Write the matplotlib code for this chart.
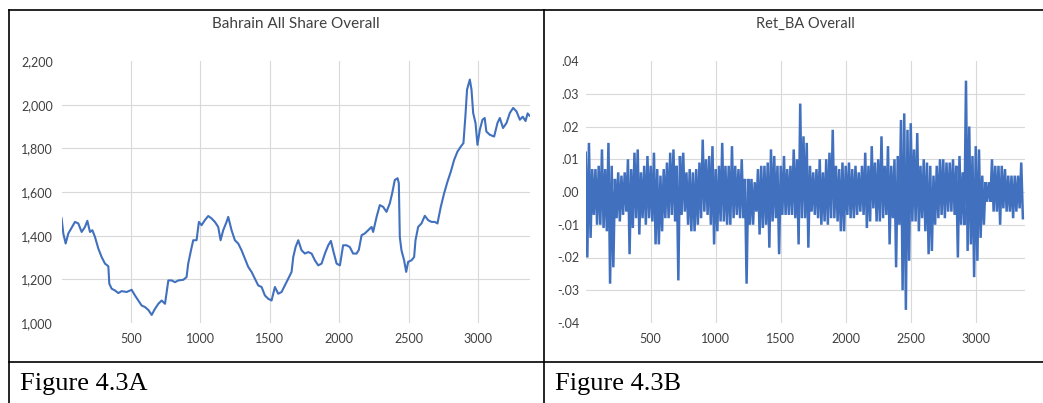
import numpy as np
import matplotlib.pyplot as plt
from matplotlib.lines import Line2D

# ------------------------------------------------------------------
# Data
# ------------------------------------------------------------------
# Figure 4.3A: Bahrain All Share index (observation number, index level)
bahrain_obs = [
    1, 13, 30, 49, 97, 121, 145, 169, 186, 205, 222, 241, 265, 289, 313, 337,
    344, 361, 385, 409, 433, 469, 505, 529, 553, 577, 601, 625, 649, 673, 697,
    721, 745, 769, 793, 817, 841, 877, 900, 912, 932, 948, 972, 989, 1008, 1032,
    1056, 1080, 1104, 1128, 1145, 1164, 1188, 1200, 1224, 1248, 1272, 1296, 1320,
    1344, 1368, 1392, 1416, 1440, 1464, 1488, 1512, 1536, 1560, 1584, 1608, 1632,
    1656, 1668, 1685, 1704, 1728, 1752, 1776, 1800, 1824, 1848, 1872, 1896, 1920,
    1939, 1955, 1980, 2004, 2027, 2052, 2075, 2099, 2124, 2140, 2160, 2183, 2207,
    2232, 2243, 2268, 2291, 2315, 2339, 2363, 2380, 2399, 2419, 2428, 2435, 2447,
    2466, 2481, 2495, 2519, 2538, 2548, 2567, 2591, 2615, 2639, 2663, 2687, 2706,
    2730, 2754, 2778, 2802, 2826, 2850, 2874, 2893, 2907, 2919, 2939, 2951, 2963,
    2980, 2994, 3011, 3030, 3046, 3058, 3083, 3114, 3138, 3155, 3178, 3203, 3227,
    3251, 3275, 3299, 3320, 3340, 3355, 3368,
]
bahrain_index = [
    1479, 1410, 1364, 1410, 1463, 1456, 1417, 1440, 1468, 1417, 1425, 1394, 1341,
    1302, 1272, 1260, 1180, 1157, 1149, 1137, 1146, 1142, 1152, 1126, 1103, 1080,
    1073, 1060, 1037, 1065, 1088, 1103, 1088, 1195, 1195, 1187, 1195, 1198, 1210,
    1272, 1333, 1379, 1379, 1463, 1448, 1471, 1490, 1479, 1463, 1440, 1379, 1425,
    1463, 1486, 1425, 1379, 1364, 1333, 1295, 1257, 1234, 1203, 1172, 1165, 1126,
    1111, 1103, 1165, 1134, 1142, 1172, 1203, 1234, 1302, 1348, 1379, 1333, 1318,
    1325, 1318, 1287, 1264, 1272, 1318, 1356, 1376, 1333, 1272, 1264, 1356, 1356,
    1348, 1318, 1318, 1335, 1402, 1410, 1425, 1440, 1417, 1486, 1540, 1532, 1509,
    1548, 1594, 1655, 1663, 1640, 1394, 1333, 1287, 1234, 1280, 1287, 1302, 1379,
    1440, 1456, 1491, 1471, 1463, 1463, 1456, 1532, 1594, 1647, 1693, 1747, 1785,
    1808, 1824, 1946, 2069, 2115, 2069, 1962, 1916, 1816, 1885, 1931, 1939, 1877,
    1862, 1854, 1916, 1939, 1893, 1916, 1962, 1985, 1969, 1931, 1945, 1925, 1960,
    1950,
]

# Figure 4.3B: Ret_BA, upper / lower reading per block of 25 observations
# (values in thousandths)
ret_hi = [
    12, 15, 7, 7, 8, 13, 7, 15, 8, 4, 6, 5, 6, 10, 7, 12, 13, 6, 8, 11,
    8, 12, 7, 5, 7, 9, 12, 13, 8, 11, 12, 6, 7, 6, 7, 9, 16, 10, 11, 14,
    7, 8, 15, 8, 8, 14, 8, 7, 10, 4, 4, 4, 3, 7, 8, 8, 9, 13, 11, 8,
    8, 11, 7, 8, 13, 10, 27, 17, 15, 8, 6, 7, 10, 6, 10, 12, 19, 8, 7, 9,
    8, 9, 7, 8, 6, 8, 12, 8, 14, 9, 10, 17, 8, 14, 8, 10, 11, 22, 24, 19,
    21, 13, 18, 8, 10, 9, 8, 5, 8, 10, 10, 9, 9, 10, 8, 11, 6, 34, 20, 11,
    14, 13, 5, 3, 3, 10, 8, 8, 8, 7, 5, 5, 5, 5, 9,
]
ret_lo = [
    -20, -14, -7, -10, -10, -11, -12, -28, -23, -8, -9, -7, -6, -19, -11, -8,
    -13, -8, -10, -8, -9, -16, -16, -12, -8, -8, -7, -9, -27, -7, -6, -10,
    -12, -12, -10, -8, -6, -7, -10, -16, -12, -9, -9, -10, -10, -8, -7, -8,
    -8, -28, -10, -10, -6, -13, -11, -10, -17, -9, -8, -19, -7, -7, -7, -7,
    -8, -16, -8, -8, -17, -6, -7, -8, -10, -9, -10, -8, -8, -9, -12, -12,
    -7, -8, -8, -7, -6, -7, -11, -9, -5, -9, -9, -8, -7, -16, -8, -23,
    -10, -30, -36, -21, -9, -9, -12, -8, -12, -19, -18, -10, -8, -7, -8, -6,
    -6, -7, -20, -10, -10, -18, -16, -26, -21, -14, -10, -3, -3, -6, -6, -10,
    -5, -6, -6, -8, -6, -5, -8,
]

x_ticks = [500, 1000, 1500, 2000, 2500, 3000]
left_yticks = [1000, 1200, 1400, 1600, 1800, 2000, 2200]
left_ylabels = ["1,000", "1,200", "1,400", "1,600", "1,800", "2,000", "2,200"]
right_yticks = [-0.04, -0.03, -0.02, -0.01, 0.0, 0.01, 0.02, 0.03, 0.04]
right_ylabels = ["-.04", "-.03", "-.02", "-.01", ".00", ".01", ".02", ".03", ".04"]

# ------------------------------------------------------------------
W, H = 1043, 403
BLUE = "#4170BE"
GRID = "#D9D9D9"
TXT = "#404040"

plt.rcParams["font.family"] = ["Lato", "DejaVu Sans"]

fig = plt.figure(figsize=(W / 100, H / 100), dpi=100)


def px_axes(x0, y0, x1, y1):
    return fig.add_axes([x0 / W, 1 - y1 / H, (x1 - x0) / W, (y1 - y0) / H])


def style_axes(ax, yticks, ylabels, ypad):
    for s in ax.spines.values():
        s.set_visible(False)
    ax.set_xlim(0, 3375)
    ax.set_ylim(yticks[0], yticks[-1])
    ax.set_xticks(x_ticks)
    ax.set_xticklabels([str(t) for t in x_ticks])
    ax.set_yticks(yticks)
    ax.set_yticklabels(ylabels)
    ax.tick_params(axis="both", length=0, labelsize=9, colors=TXT)
    ax.tick_params(axis="x", pad=7)
    ax.tick_params(axis="y", pad=ypad)
    for v in yticks[1:-1]:
        ax.axhline(v, color=GRID, lw=0.8, zorder=0)
    for v in x_ticks:
        ax.axvline(v, color=GRID, lw=0.8, zorder=0)


# ---- left: index level
ax1 = px_axes(61.5, 61, 530.4, 323)
ax1.plot(bahrain_obs, bahrain_index, color=BLUE, lw=1.5, zorder=2)
style_axes(ax1, left_yticks, left_ylabels, 6)
ax1.set_title("Bahrain All Share Overall", fontsize=11, color=TXT, pad=24)

# ---- right: returns, drawn as one line through the block readings
k = np.arange(len(ret_hi))
ret_x = np.column_stack([k * 25.0, k * 25.0 + 12.5]).ravel()
ret_y = np.column_stack([ret_hi, ret_lo]).ravel() * 0.001
ax2 = px_axes(585.7, 61, 1024.5, 323)
ax2.plot(ret_x, ret_y, color=BLUE, lw=1.8, zorder=2, solid_joinstyle="miter")
style_axes(ax2, right_yticks, right_ylabels, 4.6)
ax2.set_title("Ret_BA Overall", fontsize=10.5, color=TXT, pad=24)

# ---- table frame around the two panels
def frame_line(x0, y0, x1, y1):
    fig.add_artist(Line2D([x0 / W, x1 / W], [1 - y0 / H, 1 - y1 / H],
                          transform=fig.transFigure, color="black", lw=1.2))


frame_line(8.5, 10, W, 10)
frame_line(8.5, 10, 8.5, H)
frame_line(543.5, 10, 543.5, H)
frame_line(8.5, 362, W, 362)

fig.text(20 / W, 1 - 384 / H, "Figure 4.3A", family="Liberation Serif",
         fontsize=19, va="center", ha="left", color="black")
fig.text(555 / W, 1 - 384 / H, "Figure 4.3B", family="Liberation Serif",
         fontsize=19, va="center", ha="left", color="black")

fig.savefig("out.png", dpi=100)
